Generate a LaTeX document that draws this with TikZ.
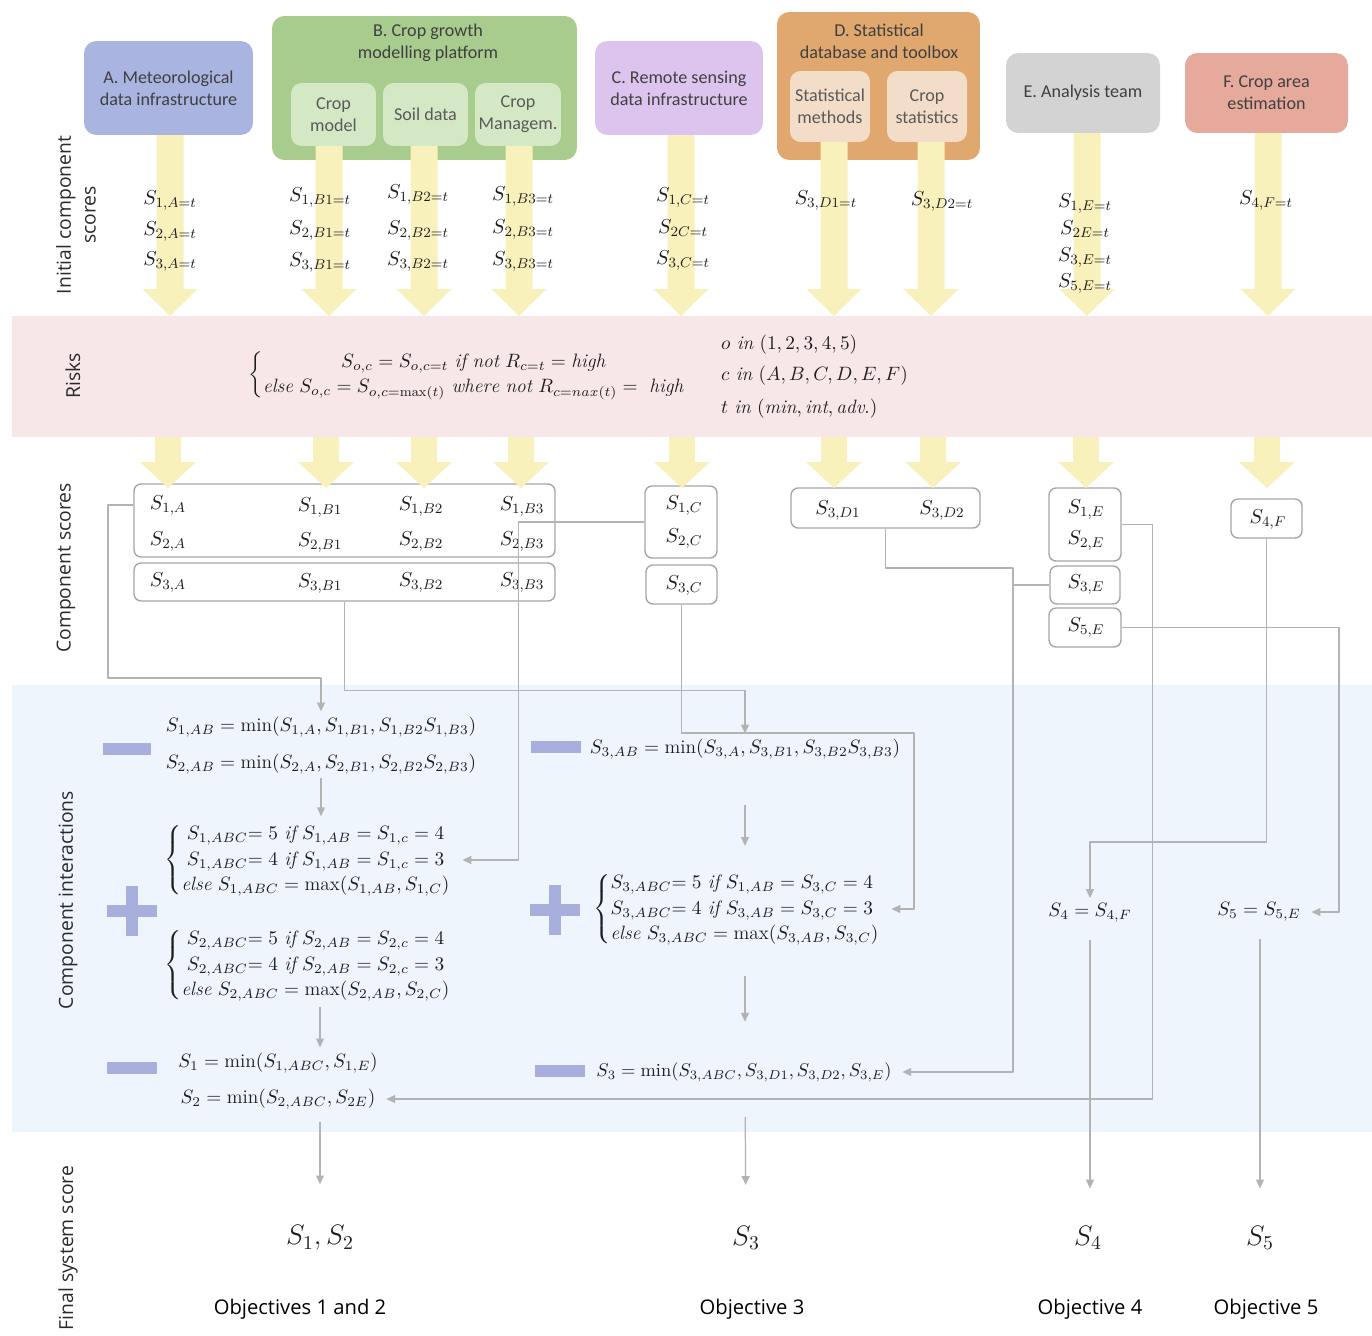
\RequirePackage{fix-cm}
\documentclass[tikz,border=0pt]{standalone}
\usepackage{amsmath}
\usepackage{fontspec}
\setsansfont{Carlito}
\newfontfamily\opensans{Open Sans}
\usetikzlibrary{arrows.meta}

\definecolor{colA}{HTML}{A9B4E0}
\definecolor{colB}{HTML}{A8CB8E}
\definecolor{colBsub}{HTML}{D5E8C5}
\definecolor{colC}{HTML}{DCC4EE}
\definecolor{colD}{HTML}{E0A76E}
\definecolor{colDsub}{HTML}{F4DDC8}
\definecolor{colE}{HTML}{D3D3D3}
\definecolor{colF}{HTML}{E6AA9C}
\definecolor{fatyellow}{HTML}{F8F1BC}
\definecolor{riskpink}{HTML}{F7E7E9}
\definecolor{interblue}{HTML}{EFF5FC}
\definecolor{opblue}{HTML}{A8AFDC}
\definecolor{linkgray}{HTML}{B3B3B3}
\definecolor{boxgray}{HTML}{A6A6A6}
\definecolor{boxtext}{HTML}{404040}
\definecolor{subtext}{HTML}{5A5A5A}
\definecolor{sidetext}{HTML}{2A2A2A}
\definecolor{mathtext}{HTML}{1E1E1E}

\begin{document}
\begin{tikzpicture}[x=0.02cm,y=-0.02cm,
    every path/.style={line join=round},
    topbox/.style={rounded corners=7pt,inner sep=0pt,align=center,text=boxtext,font=\sffamily\fontsize{10.3}{12.4}\selectfont},
    subbox/.style={topbox,rounded corners=6pt,text=subtext},
    boxtitle/.style={align=center,text=boxtext,font=\sffamily\fontsize{10.3}{12.4}\selectfont},
    fatarrow/.style={fill=fatyellow},
    sidelabel/.style={rotate=90,align=center,text=sidetext,font=\opensans\fontsize{11}{14}\selectfont},
    score/.style={text=mathtext,inner sep=1pt,font=\fontsize{11.5}{13}\selectfont},
    scorebox/.style={draw=boxgray,fill=white,line width=0.8pt,rounded corners=4pt,inner sep=0pt},
    eqn/.style={text=mathtext,inner xsep=5pt,inner ysep=2pt,font=\fontsize{11}{14.5}\selectfont},
    finalscore/.style={text=mathtext,font=\fontsize{16}{19}\selectfont},
    objlabel/.style={text=black,font=\opensans\fontsize{11.5}{14}\selectfont},
    opbar/.style={fill=opblue},
    link/.style={draw=linkgray,line width=0.7pt},
    linkarrow/.style={link,-{Triangle[length=5pt,width=4.5pt]},shorten >=1pt}]
  \useasboundingbox (0,0) rectangle (1372,1335);

  % bands
  \fill[riskpink] (12,316) rectangle (1372,437);
  \fill[interblue] (12,685) rectangle (1372,1132);

  % row labels
  \node[sidelabel] (lInit) at (76,215) {Initial component\\scores};
  \node[sidelabel] (lRisk) at (73,376) {Risks};
  \node[sidelabel] (lComp) at (66,568) {Component scores};
  \node[sidelabel] (lInter) at (68,900) {Component interactions};
  \node[sidelabel] (lFinal) at (68,1248) {Final system score};

  % components
  \node[topbox,fill=colA,minimum width=3.38cm,minimum height=1.88cm] (boxA) at (168.5,88) {A. Meteorological\\data infrastructure};
  \node[topbox,fill=colB,minimum width=6.1cm,minimum height=2.88cm] (boxB) at (424.5,88) {};
  \node[boxtitle] (titleB) at (428,43) {B. Crop growth\\modelling platform};
  \node[topbox,fill=colC,minimum width=3.36cm,minimum height=1.88cm] (boxC) at (679,88) {C. Remote sensing\\data infrastructure};
  \node[topbox,fill=colD,minimum width=4.06cm,minimum height=2.96cm] (boxD) at (878.5,86) {};
  \node[boxtitle] (titleD) at (879,41) {D. Statistical\\database and toolbox};
  \node[topbox,fill=colE,minimum width=3.08cm,minimum height=1.6cm] (boxE) at (1083,93) {E. Analysis team};
  \node[topbox,fill=colF,minimum width=3.26cm,minimum height=1.6cm] (boxF) at (1266.5,93) {F. Crop area\\estimation};

  % initial score arrows
  \foreach \x/\ytop in {170/135,329/146,424/146,519/146,681/135,834/142,931/142,1087/133,1268/133}
    \fill[fatarrow] (\x-13.5,\ytop) -- (\x+13.5,\ytop) -- (\x+13.5,289) -- (\x+27.5,289) -- (\x,316) -- (\x-27.5,289) -- (\x-13.5,289) -- cycle;

  \node[subbox,fill=colBsub,minimum width=1.7cm,minimum height=1.26cm] (boxB1) at (333.5,114.5) {Crop\\model};
  \node[subbox,fill=colBsub,minimum width=1.7cm,minimum height=1.26cm] (boxB2) at (425.5,114.5) {Soil data};
  \node[subbox,fill=colBsub,minimum width=1.72cm,minimum height=1.26cm] (boxB3) at (518,114.5) {Crop\\Managem.};
  \node[subbox,fill=colDsub,minimum width=1.6cm,minimum height=1.42cm] (boxD1) at (830,106.5) {Statistical\\methods};
  \node[subbox,fill=colDsub,minimum width=1.6cm,minimum height=1.42cm] (boxD2) at (927,106.5) {Crop\\statistics};

  \node[score] (tA1) at (170,200) {$S_{1,A=t}$};
  \node[score] (tA2) at (170,231) {$S_{2,A=t}$};
  \node[score] (tA3) at (170,261) {$S_{3,A=t}$};
  \node[score] (tB11) at (320,197) {$S_{1,B1=t}$};
  \node[score] (tB12) at (320,230) {$S_{2,B1=t}$};
  \node[score] (tB13) at (320,262) {$S_{3,B1=t}$};
  \node[score] (tB21) at (418,194) {$S_{1,B2=t}$};
  \node[score] (tB22) at (418,230) {$S_{2,B2=t}$};
  \node[score] (tB23) at (418,261) {$S_{3,B2=t}$};
  \node[score] (tB31) at (523,196) {$S_{1,B3=t}$};
  \node[score] (tB32) at (523,229) {$S_{2,B3=t}$};
  \node[score] (tB33) at (523,261) {$S_{3,B3=t}$};
  \node[score] (tC1) at (683,197) {$S_{1,C=t}$};
  \node[score] (tC2) at (683,228) {$S_{2C=t}$};
  \node[score] (tC3) at (683,260) {$S_{3,C=t}$};
  \node[score] (tD1) at (826,200) {$S_{3,D1=t}$};
  \node[score] (tD2) at (942,201) {$S_{3,D2=t}$};
  \node[score] (tE1) at (1085,203) {$S_{1,E=t}$};
  \node[score] (tE2) at (1085,229) {$S_{2E=t}$};
  \node[score] (tE3) at (1085,257) {$S_{3,E=t}$};
  \node[score] (tE5) at (1085,283) {$S_{5,E=t}$};
  \node[score] (tF4) at (1266,200) {$S_{4,F=t}$};

  % risks
  \node[eqn] (riskeq) at (467,375) {$\left\{\begin{array}{@{}c@{}}
      S_{o,c}=S_{o,c=t}\ \mathit{if\ not}\ R_{c=t}=\mathit{high}\\
      \mathit{else}\ S_{o,c}=S_{o,c=\max(t)}\ \mathit{where\ not}\ R_{c=nax(t)}=\ \mathit{high}
    \end{array}\right.$};
  \node[eqn,anchor=west] (riskO) at (712,345) {$o\ \mathit{in}\ (1,2,3,4,5)$};
  \node[eqn,anchor=west] (riskC) at (712,376) {$c\ \mathit{in}\ (A,B,C,D,E,F)$};
  \node[eqn,anchor=west] (riskT) at (712,409) {$t\ \mathit{in}\ (\mathit{min},\mathit{int},\mathit{adv.})$};

  % component scores
  \node[scorebox,minimum width=8.42cm,minimum height=1.46cm] (sAB12) at (344.5,520.5) {};
  \node[scorebox,minimum width=8.42cm,minimum height=0.76cm] (sAB3) at (344.5,582) {};
  \node[scorebox,minimum width=1.44cm,minimum height=1.44cm] (sC12) at (681,522) {};
  \node[scorebox,minimum width=1.42cm,minimum height=0.78cm] (sC3) at (681.5,584.5) {};
  \node[scorebox,minimum width=3.78cm,minimum height=0.8cm] (sD) at (885.5,508) {};
  \node[scorebox,minimum width=1.44cm,minimum height=1.46cm] (sE12) at (1085,524.5) {};
  \node[scorebox,minimum width=1.4cm,minimum height=0.76cm] (sE3) at (1085,585) {};
  \node[scorebox,minimum width=1.44cm,minimum height=0.78cm] (sE5) at (1085,627.5) {};
  \node[scorebox,minimum width=1.42cm,minimum height=0.78cm] (sF) at (1266.5,518.5) {};

  % component score arrows
  \foreach \x in {168,326,424,521,682,834,933,1086,1267}
    \fill[fatarrow] (\x-13,437) -- (\x+13,437) -- (\x+13,462) -- (\x+28,462) -- (\x,488) -- (\x-28,462) -- (\x-13,462) -- cycle;

  \node[score] (s1A) at (168,505) {$S_{1,A}$};
  \node[score] (s1B1) at (320,507) {$S_{1,B1}$};
  \node[score] (s1B2) at (421,506) {$S_{1,B2}$};
  \node[score] (s1B3) at (522,506) {$S_{1,B3}$};
  \node[score] (s2A) at (168,541) {$S_{2,A}$};
  \node[score] (s2B1) at (320,542) {$S_{2,B1}$};
  \node[score] (s2B2) at (421,541) {$S_{2,B2}$};
  \node[score] (s2B3) at (522,541) {$S_{2,B3}$};
  \node[score] (s3A) at (168,582) {$S_{3,A}$};
  \node[score] (s3B1) at (320,583) {$S_{3,B1}$};
  \node[score] (s3B2) at (421,582) {$S_{3,B2}$};
  \node[score] (s3B3) at (522,582) {$S_{3,B3}$};
  \node[score] (s1C) at (684,505) {$S_{1,C}$};
  \node[score] (s2C) at (684,538) {$S_{2,C}$};
  \node[score] (s3C) at (684,585) {$S_{3,C}$};
  \node[score] (s3D1) at (838,510) {$S_{3,D1}$};
  \node[score] (s3D2) at (942,510) {$S_{3,D2}$};
  \node[score] (s1E) at (1086,509) {$S_{1,E}$};
  \node[score] (s2E) at (1086,540) {$S_{2,E}$};
  \node[score] (s3E) at (1086,584) {$S_{3,E}$};
  \node[score] (s5E) at (1086,627) {$S_{5,E}$};
  \node[score] (s4F) at (1268,519) {$S_{4,F}$};

  % interactions
  \fill[opbar] (103,743) rectangle (151,755);
  \fill[opbar] (107,905) rectangle (157,917);
  \fill[opbar] (126,886) rectangle (138,936);
  \fill[opbar] (107,1062) rectangle (157,1074);
  \fill[opbar] (531,741) rectangle (581,753);
  \fill[opbar] (530,904) rectangle (580,916);
  \fill[opbar] (549,885) rectangle (561,935);
  \fill[opbar] (535,1065) rectangle (585,1077);

  \node[eqn] (eq1AB) at (321,727) {$S_{1,AB}=\min(S_{1,A},S_{1,B1},S_{1,B2}S_{1,B3})$};
  \node[eqn] (eq2AB) at (321,764) {$S_{2,AB}=\min(S_{2,A},S_{2,B1},S_{2,B2}S_{2,B3})$};
  \node[eqn] (grp1) at (308,860) {$\left\{\begin{array}{@{}l@{}}
      \;S_{1,ABC}{=}\;5\ \mathit{if}\ S_{1,AB}=S_{1,c}=4\\
      \;S_{1,ABC}{=}\;4\ \mathit{if}\ S_{1,AB}=S_{1,c}=3\\
      \mathit{else}\ S_{1,ABC}=\max(S_{1,AB},S_{1,C})
    \end{array}\right.$};
  \node[eqn] (grp2) at (308,965) {$\left\{\begin{array}{@{}l@{}}
      \;S_{2,ABC}{=}\;5\ \mathit{if}\ S_{2,AB}=S_{2,c}=4\\
      \;S_{2,ABC}{=}\;4\ \mathit{if}\ S_{2,AB}=S_{2,c}=3\\
      \mathit{else}\ S_{2,ABC}=\max(S_{2,AB},S_{2,C})
    \end{array}\right.$};
  \node[eqn] (eqS1) at (278,1063) {$S_1=\min(S_{1,ABC},S_{1,E})$};
  \node[eqn] (eqS2) at (278,1099) {$S_2=\min(S_{2,ABC},S_{2E})$};
  \node[eqn] (eq3AB) at (745,749) {$S_{3,AB}=\min(S_{3,A},S_{3,B1},S_{3,B2}S_{3,B3})$};
  \node[eqn] (grp3) at (737,909) {$\left\{\begin{array}{@{}l@{}}
      S_{3,ABC}{=}\;5\ \mathit{if}\ S_{1,AB}=S_{3,C}=4\\
      S_{3,ABC}{=}\;4\ \mathit{if}\ S_{3,AB}=S_{3,C}=3\\
      \mathit{else}\ S_{3,ABC}=\max(S_{3,AB},S_{3,C})
    \end{array}\right.$};
  \node[eqn,font=\fontsize{10.5}{14}\selectfont] (eq3) at (744,1072) {$S_3=\min(S_{3,ABC},S_{3,D1},S_{3,D2},S_{3,E})$};
  \node[eqn] (eqS4) at (1090,913) {$S_4=S_{4,F}$};
  \node[eqn] (eqS5) at (1259,912) {$S_5=S_{5,E}$};

  % final system scores
  \node[finalscore] (fin12) at (320,1238) {$S_1,S_2$};
  \node[finalscore] (fin3) at (746,1238) {$S_3$};
  \node[finalscore] (fin4) at (1088,1238) {$S_4$};
  \node[finalscore] (fin5) at (1260,1238) {$S_5$};
  \node[objlabel] (obj12) at (300,1309) {Objectives 1 and 2};
  \node[objlabel] (obj3) at (752,1309) {Objective 3};
  \node[objlabel] (obj4) at (1090,1309) {Objective 4};
  \node[objlabel] (obj5) at (1266,1309) {Objective 5};

  % connectors
  \draw[linkarrow] (sAB12.west |- s1A) -| (108,678) -| (eq1AB);
  \draw[linkarrow] (sAB3.south) -- ++(0,89) -| (eq3AB);
  \draw[linkarrow] (sC12.west) -- ++(-126,0) |- (grp1);
  \draw[linkarrow] (sC3.south) |- (914,733) |- (grp3);
  \draw[linkarrow] (sD.south) |- (1013,568) |- (eq3);
  \draw[link] (sE3.west) -| (1013,700);
  \draw[linkarrow] (sE12.east) -- ++(31,0) |- (eqS2);
  \draw[linkarrow] (sF.south) |- (1090,842) -- (eqS4);
  \draw[linkarrow] (sE5.east) -| (1339,912) -- (eqS5);

  \draw[linkarrow] (eq2AB.south) -- (eq2AB.south |- grp1.north);
  \draw[linkarrow] (grp2.south -| fin12) -- (eqS1.north -| fin12);
  \draw[linkarrow,shorten <=5pt,shorten >=20pt] (eqS2.south -| fin12) -- (fin12);
  \draw[linkarrow,shorten <=24pt,shorten >=12pt] (eq3AB.south) -- (eq3AB.south |- grp3.north);
  \draw[linkarrow,shorten <=14pt,shorten >=21pt] (grp3.south -| eq3AB) -- (eq3.north -| eq3AB);
  \draw[linkarrow,shorten <=18pt,shorten >=20pt] (eq3.south -| eq3AB) -- (fin3);
  \draw[linkarrow,shorten <=8pt,shorten >=18pt] (eqS4.south) -- (eqS4.south |- fin4.north);
  \draw[linkarrow,shorten <=8pt,shorten >=18pt] (eqS5.south -| fin5) -- (fin5);
\end{tikzpicture}
\end{document}
